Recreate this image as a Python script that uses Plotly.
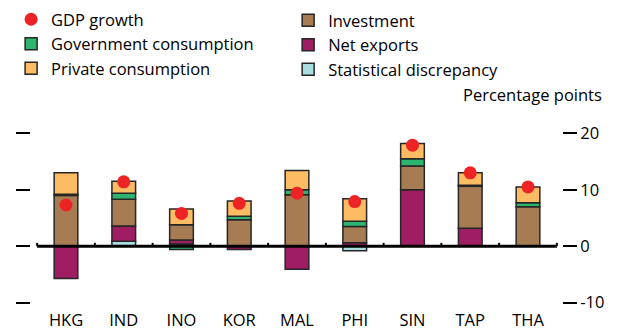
import plotly.graph_objects as go

categories = ["HKG", "IND", "INO", "KOR", "MAL", "PHI", "SIN", "TAP", "THA"]
stat_disc = [0, 0.9, 0.4, 0, 0, -0.8, 0, 0, 0]
net_exports = [-5.7, 2.7, 0.7, -0.6, -4.1, 0.6, 10.0, 3.2, 0]
investment = [9.0, 4.7, 2.7, 4.7, 9.1, 2.9, 4.2, 7.4, 7.0]
gov_cons = [0.2, 1.1, -0.6, 0.6, 0.9, 0.9, 1.3, 0.2, 0.7]
priv_cons = [3.8, 2.1, 2.8, 2.7, 3.4, 4.0, 2.7, 2.2, 2.8]
gdp_growth = [7.3, 11.4, 5.8, 7.6, 9.4, 7.9, 17.9, 13.0, 10.5]
y_ticks = [-10, 0, 10, 20]
y_tick_text = ["-10", "0", "10", "20"]

FONT = "Open Sans"
FS = 16.5
line = dict(color="#262626", width=1.5)
bw = 0.41

fig = go.Figure()
fig.add_bar(x=categories, y=stat_disc, name="Statistical discrepancy",
            marker=dict(color="#a9dde1", line=line), width=bw, legend="legend2", legendrank=3)
fig.add_bar(x=categories, y=net_exports, name="Net exports",
            marker=dict(color="#9e1d63", line=line), width=bw, legend="legend2", legendrank=2)
fig.add_bar(x=categories, y=investment, name="Investment",
            marker=dict(color="#a87c52", line=line), width=bw, legend="legend2", legendrank=1)
fig.add_bar(x=categories, y=gov_cons, name="Government consumption",
            marker=dict(color="#2db46e", line=line), width=bw, legend="legend", legendrank=2)
fig.add_bar(x=categories, y=priv_cons, name="Private consumption",
            marker=dict(color="#fdbb63", line=line), width=bw, legend="legend", legendrank=3)
fig.add_scatter(x=categories, y=gdp_growth, name="GDP growth", mode="markers",
                marker=dict(color="#ee2325", size=13, line=dict(width=0)),
                legend="legend", legendrank=1)
# invisible trace to activate the right axis
fig.add_scatter(x=categories, y=gdp_growth, yaxis="y2", mode="markers",
                marker=dict(opacity=0), showlegend=False, hoverinfo="skip")

yr = [-10.94, 24.12]
n = len(categories)
shapes = [dict(type="line", xref="x", yref="y", x0=-0.5, x1=n - 0.5, y0=0, y1=0,
               line=dict(color="black", width=3))]
for k in range(n + 1):
    shapes.append(dict(type="line", xref="x", yref="y", x0=k - 0.5, x1=k - 0.5,
                       y0=0, y1=0.6, line=dict(color="black", width=2)))

fig.update_layout(
    width=617, height=330,
    margin=dict(l=31, r=55, t=110, b=22, autoexpand=False),
    paper_bgcolor="white", plot_bgcolor="white",
    barmode="relative",
    font=dict(family=FONT, size=FS, color="black"),
    showlegend=True,
    legend=dict(xref="container", yref="container", x=0.018, y=1.0 - 2 / 330, xanchor="left",
                yanchor="top", traceorder="normal", font=dict(size=FS),
                bgcolor="rgba(0,0,0,0)", tracegroupgap=0, itemclick=False),
    legend2=dict(xref="container", yref="container", x=0.467, y=1.0 - 3 / 330, xanchor="left",
                 yanchor="top", traceorder="normal", font=dict(size=FS),
                 bgcolor="rgba(0,0,0,0)", tracegroupgap=0, itemclick=False),
    xaxis=dict(type="category", range=[-0.606, 8.589], showline=False, ticks="",
               showgrid=False, zeroline=False, tickfont=dict(size=FS), automargin=False),
    yaxis=dict(range=yr, tickvals=y_ticks, showticklabels=False, ticks="outside",
               ticklen=14, tickwidth=2, tickcolor="black", showgrid=False,
               zeroline=False, showline=False, automargin=False),
    yaxis2=dict(range=yr, tickvals=y_ticks, ticktext=y_tick_text, overlaying="y",
                side="right", ticks="outside", ticklen=14, tickwidth=2, tickcolor="black",
                showgrid=False, zeroline=False, showline=False,
                tickfont=dict(size=FS), automargin=False),
    shapes=shapes,
    annotations=[dict(text="Percentage points", xref="paper", yref="paper",
                      x=1.0 + 42 / 531, y=1.0 + 2 / 198, xanchor="right",
                      yanchor="bottom", showarrow=False, font=dict(size=FS))],
)

fig.write_html("out.html", config={"displayModeBar": False},
               post_script="document.body.style.margin='0';")
